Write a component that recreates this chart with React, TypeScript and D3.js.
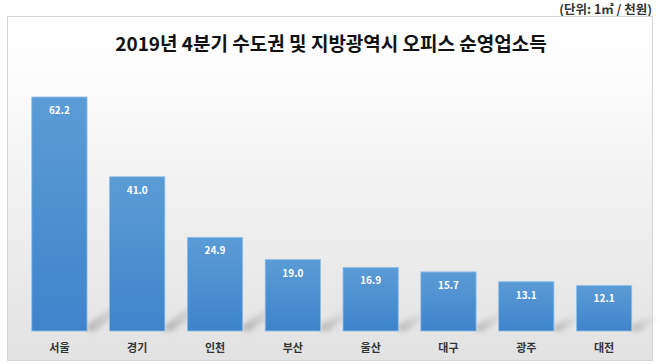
import * as React from "react";
import * as d3 from "d3";

const regions = ["서울", "경기", "인천", "부산", "울산", "대구", "광주", "대전"];
const incomes = [62.2, 41.0, 24.9, 19.0, 16.9, 15.7, 13.1, 12.1];

const title = "2019년 4분기 수도권 및 지방광역시 오피스 순영업소득";
const unitNote = "(단위: 1㎡ / 천원)";

const W = 660;
const H = 364;
const FONT = "'Noto Sans CJK KR', 'Noto Sans', sans-serif";

export default function App() {
  const baseY = 331;
  const x = d3.scaleBand<string>()
    .domain(regions)
    .range([20.5, 643])
    .paddingInner(0.29)
    .paddingOuter(0.145);
  const y = d3.scaleLinear().domain([0, 62.2]).range([baseY, 97]);

  return (
    <svg width={W} height={H} style={{ position: "absolute", left: 0, top: 0 }}>
      <defs>
        <linearGradient id="bg" x1="0" y1="0" x2="0" y2="1">
          <stop offset="0" stopColor="#ffffff" />
          <stop offset="0.2" stopColor="#fbfbfb" />
          <stop offset="1" stopColor="#e2e2e2" />
        </linearGradient>
        <linearGradient id="bar" x1="0" y1="0" x2="0" y2="1">
          <stop offset="0" stopColor="#5b9cd6" />
          <stop offset="1" stopColor="#3f84cb" />
        </linearGradient>
        <linearGradient id="shade" x1="0" y1="1" x2="1" y2="0">
          <stop offset="0" stopColor="#8a8a8a" stopOpacity="0.55" />
          <stop offset="1" stopColor="#bdbdbd" stopOpacity="0" />
        </linearGradient>
        <filter id="blur" x="-20%" y="-20%" width="140%" height="140%">
          <feGaussianBlur stdDeviation="2.5" />
        </filter>
      </defs>
      <rect x={0} y={0} width={W} height={H} fill="#ffffff" />
      <text x={652} y={14} textAnchor="end" fontFamily={FONT} fontSize={12.5}
        fontWeight="bold" fill="#333">{unitNote}</text>
      <rect x={7.5} y={16.5} width={645} height={344} fill="url(#bg)" stroke="#d6d6d6" />
      <text x={331} y={51} textAnchor="middle" fontFamily={FONT} fontSize={19}
        fontWeight="bold" fill="#111">{title}</text>

      <g>
        {regions.map((r, i) => {
          const x0 = x(r)! + x.bandwidth();
          const top = y(incomes[i]);
          const h = baseY - top;
          const reach = Math.min(h * 0.35, 40);
          return (
            <polygon key={r} filter="url(#blur)" fill="url(#shade)"
              points={`${x0},${baseY} ${x0},${baseY - 6} ${x0 + reach},${baseY - reach * 0.9} ${x0 + reach + 14},${baseY - reach * 0.9} ${x0 + 8},${baseY}`} />
          );
        })}
      </g>

      <g>
        {regions.map((r, i) => (
          <g key={r}>
            <rect x={x(r)} y={y(incomes[i])} width={x.bandwidth()}
              height={baseY - y(incomes[i])} fill="url(#bar)"
              stroke="#8dbde8" strokeWidth={0.8} />
            <text x={x(r)! + x.bandwidth() / 2} y={y(incomes[i]) + 17}
              textAnchor="middle" fontFamily={FONT} fontSize={10} fontWeight="bold"
              fill="#ffffff">{incomes[i].toFixed(1)}</text>
            <text x={x(r)! + x.bandwidth() / 2} y={352} textAnchor="middle"
              fontFamily={FONT} fontSize={11} fontWeight="bold" fill="#333">{r}</text>
          </g>
        ))}
      </g>
    </svg>
  );
}
